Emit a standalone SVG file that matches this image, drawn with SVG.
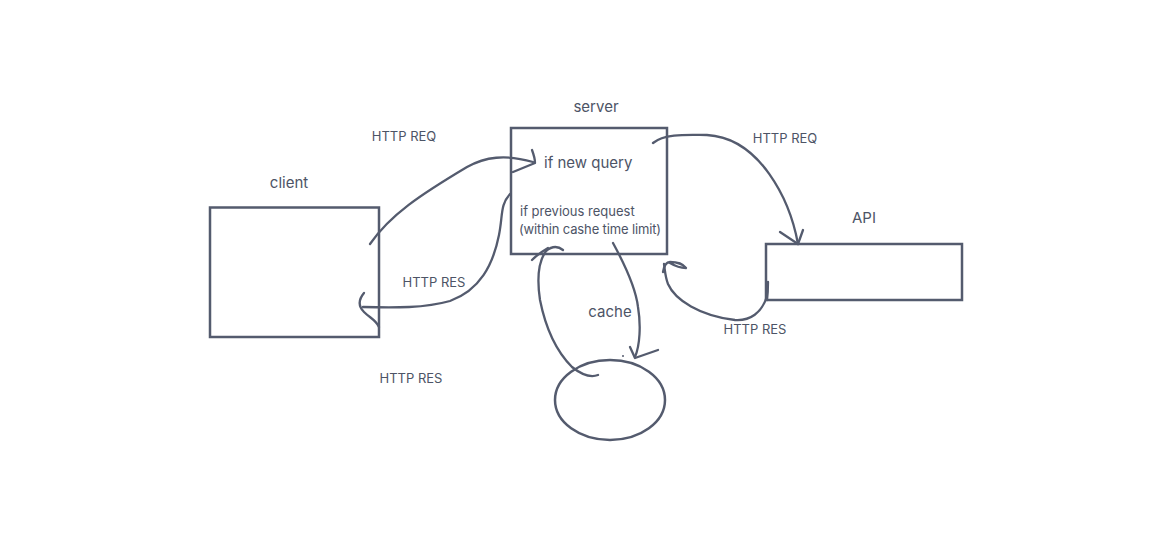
<svg xmlns="http://www.w3.org/2000/svg" width="1173" height="537" viewBox="0 0 1173 537">
<style>
.shape{fill:none;stroke:#545b6e;stroke-width:2.5}
.line{fill:none;stroke:#545b6e;stroke-width:2.3;stroke-linecap:round;stroke-linejoin:round}
text{font-family:Inter,"Liberation Sans",sans-serif;fill:#4d5466}
.lbl{font-size:15px}
.sm{font-size:13px}
</style>
<rect width="1173" height="537" fill="#ffffff"/>
<g id="client">
<rect class="shape" x="210" y="207.5" width="169" height="129.5"/>
<text class="lbl" x="289" y="188" text-anchor="middle">client</text>
</g>
<g id="server">
<rect class="shape" x="511" y="128" width="156" height="126"/>
<text class="lbl" x="596" y="112" text-anchor="middle">server</text>
<text class="lbl" x="544" y="168">if new query</text>
<text class="sm" x="520" y="216">if previous request</text>
<text class="sm" x="519" y="234" textLength="142">(within cashe time limit)</text>
</g>
<g id="api">
<rect class="shape" x="766" y="244" width="196" height="56"/>
<text class="lbl" x="864" y="223" text-anchor="middle">API</text>
</g>
<g id="cache">
<ellipse class="shape" cx="610" cy="400" rx="55" ry="40"/>
<text class="lbl" x="610" y="317" text-anchor="middle">cache</text>
</g>
<g id="connectors">
<path class="line" d="M370,244 C390,215 420,195 467,167 C485,157 505,154 533,162"/>
<path class="line" d="M532,150 Q535,158 535,163 L513,172"/>
<path class="line" d="M510,194 C500,205 503,215 499,235 C493,265 480,290 450,301 C425,308 395,308 363,307"/>
<path class="line" d="M364,293 C359,299 358,306 364,312 C370,318 376,320 379,327"/>
<path class="line" d="M653,143 C665,133 690,135 707,135 C760,138 790,200 798,244"/>
<path class="line" d="M780,232 L798,244 L803,230"/>
<path class="line" d="M767,300 C768,292 768,288 768,282 M767,296 C762,313 750,321 735,320 C700,316 675,300 668,284 C665,276 665,270 664,264"/>
<path class="line" d="M663,272 C664,266 666,262 670,262 C676,262 683,264 686,268 C680,268 675,266 670,263"/>
<path class="line" d="M613,243 C625,265 636,290 638,307 C641,325 640,345 635,357"/>
<path class="line" d="M630,347 L635,358 L658,350"/>
<circle cx="623" cy="356" r="1" fill="#545b6e"/>
<path class="line" d="M598,375 C590,378 582,375 572,367 C555,350 545,325 540,300 C537,280 538,262 546,251 C552,246 558,246 563,250"/>
<path class="line" d="M532,260 C537,255 541,252 548,248"/>
<text class="sm" x="404" y="141" text-anchor="middle">HTTP REQ</text>
<text class="sm" x="785" y="143" text-anchor="middle">HTTP REQ</text>
<text class="sm" x="434" y="287" text-anchor="middle">HTTP RES</text>
<text class="sm" x="411" y="383" text-anchor="middle">HTTP RES</text>
<text class="sm" x="755" y="334" text-anchor="middle">HTTP RES</text>
</g>
</svg>
